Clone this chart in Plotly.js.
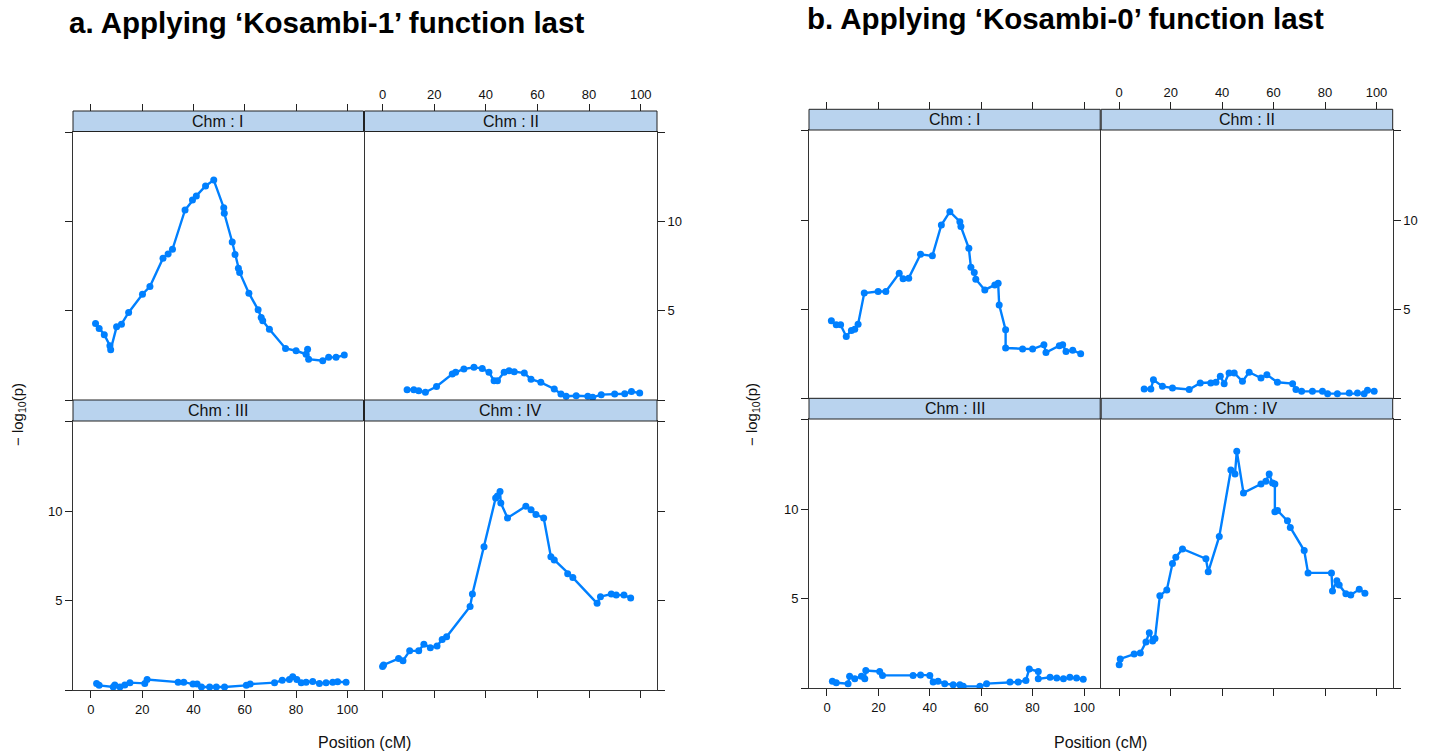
<!DOCTYPE html>
<html>
<head>
<meta charset="utf-8">
<script src="https://cdn.plot.ly/plotly-3.0.1.min.js"></script>
<style>
  html, body { margin: 0; padding: 0; background: #ffffff; }
  #chart { width: 1438px; height: 755px; }
</style>
</head>
<body>
<div id="chart"></div>
<script>
// ---------------------------------------------------------------
// QTL scan profiles: -log10(p) along each chromosome (position, cM)
// ---------------------------------------------------------------

const chromosomes = ["Chm : I", "Chm : II", "Chm : III", "Chm : IV"];
const xTicks = [0, 20, 40, 60, 80, 100];
const yTicks = [5, 10];
const yEdgeTicks = [0, 15];

// a. Kosambi-1 applied last
const k1_I_pos = [1.8, 3.2, 5.2, 7.4, 7.7, 10.0, 11.9, 14.7, 20.1, 23.0, 28.1, 30.1, 31.8, 36.7, 39.6, 41.1, 44.7, 47.9, 51.8, 52.0, 55.1, 56.2, 57.5, 58.0, 61.6, 65.2, 66.4, 67.0, 69.6, 75.9, 80.0, 83.9, 84.5, 84.9, 90.4, 92.7, 95.6, 98.8];
const k1_I_lod = [4.29, 4.01, 3.66, 3.04, 2.82, 4.10, 4.25, 4.91, 5.93, 6.36, 7.95, 8.19, 8.45, 10.65, 11.21, 11.44, 12.00, 12.33, 10.78, 10.47, 8.86, 8.15, 7.39, 7.15, 5.99, 5.06, 4.63, 4.44, 3.97, 2.89, 2.76, 2.57, 2.85, 2.29, 2.20, 2.39, 2.39, 2.52];

const k1_II_pos = [9.5, 12.1, 14.0, 16.6, 20.9, 27.0, 28.3, 31.5, 35.4, 38.6, 41.2, 43.2, 44.5, 47.1, 49.0, 51.0, 54.9, 57.5, 61.3, 66.5, 69.1, 71.1, 75.0, 79.5, 81.4, 84.7, 89.9, 93.8, 96.4, 99.6];
const k1_II_lod = [0.58, 0.58, 0.52, 0.43, 0.76, 1.46, 1.55, 1.74, 1.83, 1.77, 1.55, 1.08, 1.08, 1.55, 1.64, 1.59, 1.51, 1.17, 0.99, 0.62, 0.34, 0.21, 0.24, 0.21, 0.15, 0.30, 0.34, 0.35, 0.47, 0.39];

const k1_III_pos = [2.2, 3.2, 8.7, 9.3, 11.3, 13.2, 15.2, 21.0, 21.9, 34.0, 36.2, 39.8, 41.4, 43.1, 46.3, 48.9, 52.1, 60.6, 62.1, 71.6, 74.6, 77.4, 78.7, 80.3, 82.0, 83.9, 86.5, 89.1, 91.7, 94.3, 96.2, 99.5];
const k1_III_lod = [0.37, 0.26, 0.17, 0.28, 0.17, 0.28, 0.41, 0.37, 0.59, 0.44, 0.44, 0.33, 0.33, 0.17, 0.17, 0.17, 0.17, 0.26, 0.33, 0.41, 0.54, 0.59, 0.74, 0.59, 0.41, 0.44, 0.48, 0.37, 0.41, 0.44, 0.46, 0.44];

const k1_IV_pos = [0.0, 0.4, 6.2, 7.9, 10.5, 14.0, 16.0, 18.5, 21.1, 23.1, 24.8, 33.9, 34.8, 39.3, 43.8, 44.5, 45.5, 45.8, 48.4, 55.5, 57.5, 59.4, 62.4, 65.2, 66.5, 71.7, 73.7, 83.1, 84.4, 88.6, 90.5, 93.5, 96.1];
const k1_IV_lod = [1.32, 1.40, 1.76, 1.64, 2.19, 2.19, 2.56, 2.37, 2.46, 2.83, 2.98, 4.67, 5.37, 8.01, 10.74, 10.86, 11.10, 10.46, 9.63, 10.28, 10.09, 9.82, 9.63, 7.46, 7.28, 6.51, 6.29, 4.85, 5.22, 5.37, 5.31, 5.31, 5.15];

// b. Kosambi-0 applied last
const k0_I_pos = [1.7, 3.6, 5.3, 7.5, 9.5, 10.8, 12.1, 14.5, 19.9, 22.9, 28.1, 29.6, 31.8, 36.4, 41.0, 44.5, 47.8, 51.7, 52.1, 55.2, 56.0, 57.3, 57.9, 61.4, 65.3, 66.6, 67.0, 69.5, 69.5, 76.1, 80.0, 84.4, 85.2, 90.4, 91.7, 93.0, 95.6, 98.7];
const k0_I_lod = [4.35, 4.12, 4.12, 3.47, 3.81, 3.88, 4.16, 5.90, 5.99, 5.99, 7.01, 6.70, 6.74, 8.08, 7.99, 9.72, 10.47, 9.91, 9.63, 8.41, 7.35, 7.05, 6.68, 6.08, 6.36, 6.46, 5.24, 3.84, 2.82, 2.76, 2.76, 3.00, 2.57, 2.95, 3.00, 2.63, 2.69, 2.50];

const k0_II_pos = [9.7, 12.3, 13.3, 16.8, 20.7, 27.2, 31.5, 35.6, 37.6, 39.3, 40.8, 42.7, 44.7, 47.9, 50.5, 55.1, 57.4, 61.5, 67.4, 68.7, 70.9, 75.1, 79.0, 81.0, 84.8, 89.4, 92.6, 95.2, 96.5, 99.1];
const k0_II_lod = [0.52, 0.52, 1.04, 0.67, 0.58, 0.49, 0.86, 0.86, 0.90, 1.23, 0.82, 1.42, 1.42, 0.95, 1.46, 1.14, 1.32, 0.90, 0.82, 0.49, 0.39, 0.39, 0.39, 0.26, 0.26, 0.30, 0.30, 0.26, 0.45, 0.39];

const k0_III_pos = [2.1, 3.6, 8.2, 8.8, 10.8, 13.4, 14.7, 15.1, 20.5, 21.6, 33.5, 36.4, 40.0, 41.3, 43.2, 45.8, 49.1, 51.7, 53.0, 59.5, 62.1, 71.2, 74.4, 77.4, 78.7, 82.2, 82.2, 86.8, 89.4, 92.0, 94.5, 97.1, 99.7];
const k0_III_lod = [0.39, 0.31, 0.26, 0.68, 0.53, 0.68, 0.53, 0.99, 0.94, 0.72, 0.72, 0.75, 0.72, 0.35, 0.39, 0.26, 0.20, 0.20, 0.11, 0.11, 0.26, 0.35, 0.35, 0.44, 1.08, 0.94, 0.53, 0.62, 0.57, 0.53, 0.62, 0.57, 0.50];

const k0_IV_pos = [0.0, 0.4, 5.8, 8.2, 10.4, 11.7, 13.0, 13.9, 15.8, 18.5, 20.7, 22.0, 24.6, 33.7, 34.6, 38.9, 43.4, 45.0, 45.7, 48.3, 55.1, 57.0, 58.3, 59.6, 60.5, 60.5, 61.5, 65.4, 66.5, 71.9, 73.4, 82.5, 82.9, 84.6, 85.5, 88.1, 90.0, 93.3, 95.5];
const k0_IV_lod = [1.31, 1.64, 1.91, 1.97, 2.59, 3.11, 2.65, 2.78, 5.17, 5.50, 6.97, 7.33, 7.79, 7.24, 6.51, 8.49, 12.20, 11.97, 13.25, 10.92, 11.42, 11.57, 11.97, 11.47, 11.42, 9.87, 9.94, 9.36, 8.99, 7.70, 6.45, 6.45, 5.44, 6.01, 5.77, 5.28, 5.22, 5.53, 5.31];

const figureTitles = ["a. Applying \u2018Kosambi-1\u2019 function last", "b. Applying \u2018Kosambi-0\u2019 function last"];
const xTitle = "Position (cM)";
const yTitle = "\u2212 log<sub>10</sub>(p)";

const series = [
  [[k1_I_pos, k1_I_lod], [k1_II_pos, k1_II_lod], [k1_III_pos, k1_III_lod], [k1_IV_pos, k1_IV_lod]],
  [[k0_I_pos, k0_I_lod], [k0_II_pos, k0_II_lod], [k0_III_pos, k0_III_lod], [k0_IV_pos, k0_IV_lod]]
];

// ---------------------------------------------------------------
// Page geometry (pixels) for the two 2x2 trellis displays
// ---------------------------------------------------------------
const W = 1438, H = 755;
const fx = px => px / W;
const fy = py => 1 - py / H;

const frames = [
  { cols: [[73, 363.5], [364.5, 657]], strips: [[111, 131.5], [400, 421]], rows: [[131.5, 400], [421, 690]],
    titleX: 67, titleY: 22, xTitleX: 365, yTitleX: 18 },
  { cols: [[809, 1100.2], [1101.2, 1392.7]], strips: [[109.3, 130], [398.3, 419]], rows: [[130, 398.3], [419, 688.3]],
    titleX: 805, titleY: 18, xTitleX: 1100, yTitleX: 752 }
];

const X_RANGE = [-7.0, 106.3];
const Y_RANGE = [0, 15.05];
const LINE_BLUE = "#0080ff";
const FRAME_COL = "#333333";
const FONT = "Liberation Sans, Arial, sans-serif";
const tickFont = { family: FONT, size: 13, color: "#111" };

const traces = [];
const layout = {
  width: W, height: H,
  margin: { l: 0, r: 0, t: 0, b: 0 },
  paper_bgcolor: "#ffffff",
  plot_bgcolor: "#ffffff",
  showlegend: false,
  shapes: [],
  annotations: []
};

function baseX(domain) {
  return {
    domain: domain, range: X_RANGE, tickmode: "array", tickvals: xTicks,
    showline: true, mirror: true, linecolor: FRAME_COL, linewidth: 1,
    showgrid: false, zeroline: false, fixedrange: true,
    ticks: "outside", ticklen: 7, tickwidth: 1, tickcolor: "#222",
    tickfont: tickFont
  };
}
function baseY(domain) {
  return {
    domain: domain, range: Y_RANGE, tickmode: "array", tickvals: yTicks,
    minor: { tickmode: "array", tickvals: yEdgeTicks, ticks: "outside", ticklen: 7, tickwidth: 1, tickcolor: "#222", showgrid: false },
    showline: true, mirror: true, linecolor: FRAME_COL, linewidth: 1,
    showgrid: false, zeroline: false, fixedrange: true,
    ticks: "outside", ticklen: 7, tickwidth: 1, tickcolor: "#222",
    tickfont: tickFont
  };
}

let extraAxis = 9;
frames.forEach((fr, f) => {
  for (let p = 0; p < 4; p++) {
    const row = Math.floor(p / 2), col = p % 2;
    const n = f * 4 + p + 1;
    const xName = n === 1 ? "x" : "x" + n;
    const yName = n === 1 ? "y" : "y" + n;
    const xKey = n === 1 ? "xaxis" : "xaxis" + n;
    const yKey = n === 1 ? "yaxis" : "yaxis" + n;
    const xd = [fx(fr.cols[col][0]), fx(fr.cols[col][1])];
    const yd = [fy(fr.rows[row][1]), fy(fr.rows[row][0])];

    const xa = baseX(xd);
    xa.anchor = yName;
    const ya = baseY(yd);
    ya.anchor = xName;

    if (row === 0) {
      // bottom edge of the upper panels carries no ticks; the scale sits above the strip
      xa.ticks = "";
      xa.showticklabels = false;
    } else {
      xa.side = "bottom";
      xa.showticklabels = (col === 0);
    }
    if (col === 0) {
      ya.side = "left";
      ya.showticklabels = (row === 1);
    } else {
      ya.side = "right";
      ya.showticklabels = (row === 0);
    }
    layout[xKey] = xa;
    layout[yKey] = ya;

    const [pos, lod] = series[f][p];
    traces.push({
      type: "scatter", mode: "lines+markers",
      x: pos, y: lod, xaxis: xName, yaxis: yName,
      line: { color: LINE_BLUE, width: 2.4 },
      marker: { color: LINE_BLUE, size: 7, symbol: "circle" },
      hoverinfo: "x+y"
    });

    // upper panels: position scale drawn above the strip
    if (row === 0) {
      const k = extraAxis++;
      const top = baseX(xd);
      top.overlaying = xName;
      top.anchor = "free";
      top.position = fy(fr.strips[0][0]);
      top.side = "top";
      top.showline = false;
      top.mirror = false;
      top.showticklabels = (col === 1);
      layout["xaxis" + k] = top;
      traces.push({
        type: "scatter", mode: "markers", x: [], y: [],
        xaxis: "x" + k, yaxis: yName, hoverinfo: "skip"
      });
    }

    // strip with the chromosome label
    const sTop = fr.strips[row][0], sBot = fr.strips[row][1];
    layout.shapes.push({
      type: "rect", xref: "paper", yref: "paper", layer: "above",
      x0: xd[0], x1: xd[1], y0: fy(sBot), y1: fy(sTop),
      fillcolor: "#b9d3ee", line: { color: "#222", width: 1 }
    });
    layout.annotations.push({
      xref: "paper", yref: "paper",
      x: (xd[0] + xd[1]) / 2, y: fy((sTop + sBot) / 2),
      xanchor: "center", yanchor: "middle",
      text: chromosomes[p], showarrow: false,
      font: { family: FONT, size: 16, color: "#111" }
    });
  }

  // figure title and shared axis titles
  layout.annotations.push({
    xref: "paper", yref: "paper", x: fx(fr.titleX), y: fy(fr.titleY),
    xanchor: "left", yanchor: "middle", showarrow: false,
    text: "<b>" + figureTitles[f] + "</b>",
    font: { family: FONT, size: 29.5, color: "#000" }
  });
  layout.annotations.push({
    xref: "paper", yref: "paper", x: fx(fr.xTitleX), y: fy(742),
    xanchor: "center", yanchor: "middle", showarrow: false,
    text: xTitle, font: { family: FONT, size: 16, color: "#111" }
  });
  layout.annotations.push({
    xref: "paper", yref: "paper", x: fx(fr.yTitleX), y: fy(415),
    xanchor: "center", yanchor: "middle", showarrow: false, textangle: -90,
    text: yTitle, font: { family: FONT, size: 15, color: "#111" }
  });
});

Plotly.newPlot("chart", traces, layout, { staticPlot: true, displayModeBar: false });
</script>
</body>
</html>
